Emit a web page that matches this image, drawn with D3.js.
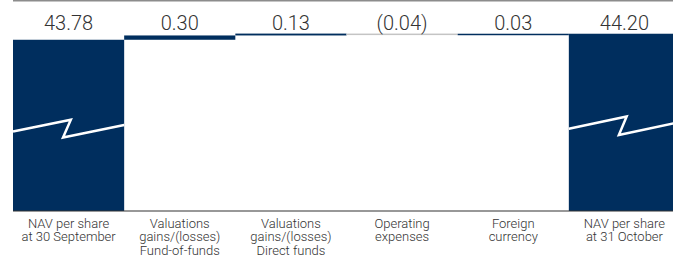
<!DOCTYPE html>
<html>
  <head>
    <meta charset="utf-8">
    <title>NAV per share bridge</title>
    <script src="https://cdn.jsdelivr.net/npm/d3@7"></script>
    <style>
        body { margin: 0; background: #fff; }
        svg { display: block; font-family: Roboto, "Liberation Sans", Arial, sans-serif; }
        .val { font-size: 20px; font-weight: 300; fill: #333; }
        .cat { font-size: 13px; font-weight: 300; fill: #333; }
    </style>
  </head>
  <body>
    <div id="viz"></div>
    <script>
    // waterfall data
    var categories = [
        ["NAV per share", "at 30 September"],
        ["Valuations", "gains/(losses)", "Fund-of-funds"],
        ["Valuations", "gains/(losses)", "Direct funds"],
        ["Operating", "expenses"],
        ["Foreign", "currency"],
        ["NAV per share", "at 31 October"]
    ];
    var values = [43.78, 0.30, 0.13, -0.04, 0.03, 44.20];
    var isTotal = [true, false, false, false, false, true];
    var valueLabels = ["43.78", "0.30", "0.13", "(0.04)", "0.03", "44.20"];

    var W = 673, H = 258;
    var navy = "#002e5e", grey = "#c4c4c4";

    var svg = d3.select("#viz").append("svg").attr("width", W).attr("height", H);

    var x = d3.scaleBand().domain(d3.range(categories.length)).range([13, 680]).padding(0);
    // broken axis: only the top of the range is shown
    var y = d3.scaleLinear().domain([31.85, 46.55]).range([211, 0]);

    // running totals
    var run = 0, bars = [];
    values.forEach(function(v, i) {
        if (isTotal[i]) { bars.push({i: i, y0: y.domain()[0], y1: v}); run = v; }
        else { bars.push({i: i, y0: run, y1: run + v}); run += v; }
    });

    svg.append("line").attr("x1", 13).attr("x2", W).attr("y1", 0.75).attr("y2", 0.75)
        .attr("stroke", "#8c8c8c").attr("stroke-width", 1.5);

    svg.selectAll("rect.bar").data(bars).enter().append("rect")
        .attr("class", "bar")
        .attr("x", function(d) { return x(d.i); })
        .attr("width", x.bandwidth())
        .attr("y", function(d) { return y(Math.max(d.y0, d.y1)); })
        .attr("height", function(d) { return Math.max(1.5, Math.abs(y(d.y0) - y(d.y1))); })
        .attr("fill", function(d) { return values[d.i] < 0 ? grey : navy; });

    // break marks on the total bars
    var brk = [[0, 0.536], [0.52, 0.467], [0.45, 0.571], [1, 0.498]];
    bars.filter(function(d) { return isTotal[d.i]; }).forEach(function(d) {
        var top = y(d.y1), bot = y(d.y0), bx = x(d.i), bw = x.bandwidth();
        svg.append("path")
            .attr("d", d3.line()(brk.map(function(p) { return [bx + p[0] * bw, top + p[1] * (bot - top)]; })))
            .attr("fill", "none").attr("stroke", "#fff").attr("stroke-width", 2.5)
            .attr("stroke-linejoin", "miter");
    });

    svg.append("line").attr("x1", 13).attr("x2", W).attr("y1", 211).attr("y2", 211)
        .attr("stroke", "#333").attr("stroke-width", 1.2);

    svg.selectAll("text.val").data(valueLabels).enter().append("text")
        .attr("class", "val")
        .attr("x", function(d, i) { return x(i) + x.bandwidth() / 2; })
        .attr("y", 30)
        .attr("text-anchor", "middle")
        .text(function(d) { return d; });

    var cat = svg.selectAll("text.cat").data(categories).enter().append("text")
        .attr("class", "cat")
        .attr("text-anchor", "middle");
    cat.selectAll("tspan").data(function(d, i) { return d.map(function(s) { return {s: s, i: i}; }); })
        .enter().append("tspan")
        .attr("x", function(d) { return x(d.i) + x.bandwidth() / 2; })
        .attr("y", function(d, j) { return 227.5 + j * 13.5; })
        .text(function(d) { return d.s; });
    </script>
  </body>
</html>
